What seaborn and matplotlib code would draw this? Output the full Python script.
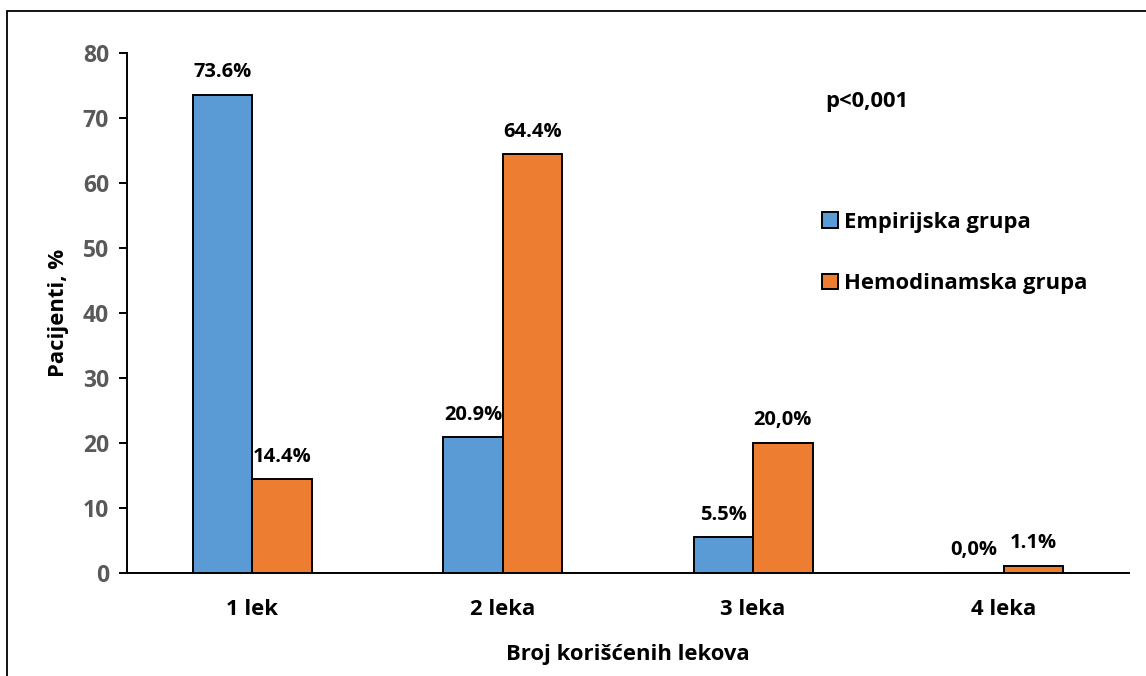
import matplotlib
matplotlib.use("Agg")
import matplotlib.pyplot as plt
import seaborn as sns
import pandas as pd
from matplotlib.patches import Rectangle

categories = ["1 lek", "2 leka", "3 leka", "4 leka"]
groups = ["Empirijska grupa", "Hemodinamska grupa"]
empirijska = [73.6, 20.9, 5.5, 0.0]
hemodinamska = [14.4, 64.4, 20.0, 1.1]
empirijska_labels = ["73.6%", "20.9%", "5.5%", "0,0%"]
hemodinamska_labels = ["14.4%", "64.4%", "20,0%", "1.1%"]
yticks = [0, 10, 20, 30, 40, 50, 60, 70, 80]

df = pd.DataFrame({
    "kategorija": categories * 2,
    "grupa": [groups[0]] * 4 + [groups[1]] * 4,
    "procenat": empirijska + hemodinamska,
})

sns.set_style("white")
plt.rcParams["font.family"] = ["Open Sans", "DejaVu Sans"]
plt.rcParams["font.weight"] = "bold"
plt.rcParams["text.color"] = "black"
plt.rcParams["axes.labelcolor"] = "black"

FS = 15.8

fig = plt.figure(figsize=(11.46, 6.76), dpi=100)
ax = fig.add_axes([0.1108, 0.1524, 0.985 - 0.1108, 0.9216 - 0.1524])

sns.barplot(data=df, x="kategorija", y="procenat", hue="grupa",
            order=categories, hue_order=groups,
            palette=["#5B9BD5", "#ED7D31"], width=0.475, gap=0,
            edgecolor="black", linewidth=1.4, saturation=1, ax=ax)

for cont, labs in zip(ax.containers, [empirijska_labels, hemodinamska_labels]):
    ax.bar_label(cont, labels=labs, padding=9, fontsize=14.5,
                 fontweight="bold", color="black")

ax.set_ylim(0, 80)
ax.set_xlim(-0.5, 3.5)
ax.set_yticks(yticks)
ax.tick_params(axis="y", which="both", left=True, length=6, width=1.4,
               direction="out", labelsize=16.5, labelcolor="#595959", pad=7,
               color="black")
ax.tick_params(axis="x", length=0, labelsize=FS, pad=19, labelcolor="black")
for lab in ax.get_xticklabels() + ax.get_yticklabels():
    lab.set_fontweight("bold")

for side in ["top", "right"]:
    ax.spines[side].set_visible(False)
for side in ["left", "bottom"]:
    ax.spines[side].set_color("black")
    ax.spines[side].set_linewidth(1.4)

ax.set_xlabel("Broj korišćenih lekova", fontsize=FS, fontweight="bold",
              labelpad=17, color="black")
ax.set_ylabel("Pacijenti, %", fontsize=FS, fontweight="bold",
              labelpad=10, color="black")

handles, labels = ax.get_legend_handles_labels()
ax.legend(handles, labels, loc="center left", bbox_to_anchor=(822 / 1146, 1 - 253 / 676),
          bbox_transform=fig.transFigure, frameon=False, fontsize=FS,
          handlelength=0.72, handleheight=0.72, handletextpad=0.3,
          labelspacing=1.85, borderaxespad=0, borderpad=0, labelcolor="black")
for t in ax.get_legend().get_texts():
    t.set_fontweight("bold")

fig.text(825 / 1146, 1 - 102 / 676, "p<0,001", fontsize=FS, fontweight="bold",
         ha="left", va="center", color="black")

fig.patches.append(Rectangle((7 / 1146, -0.1), 2.0, 1 - 11 / 676 + 0.1,
                             transform=fig.transFigure, fill=False,
                             edgecolor="black", linewidth=1.3))

fig.savefig("out.png", dpi=100)
